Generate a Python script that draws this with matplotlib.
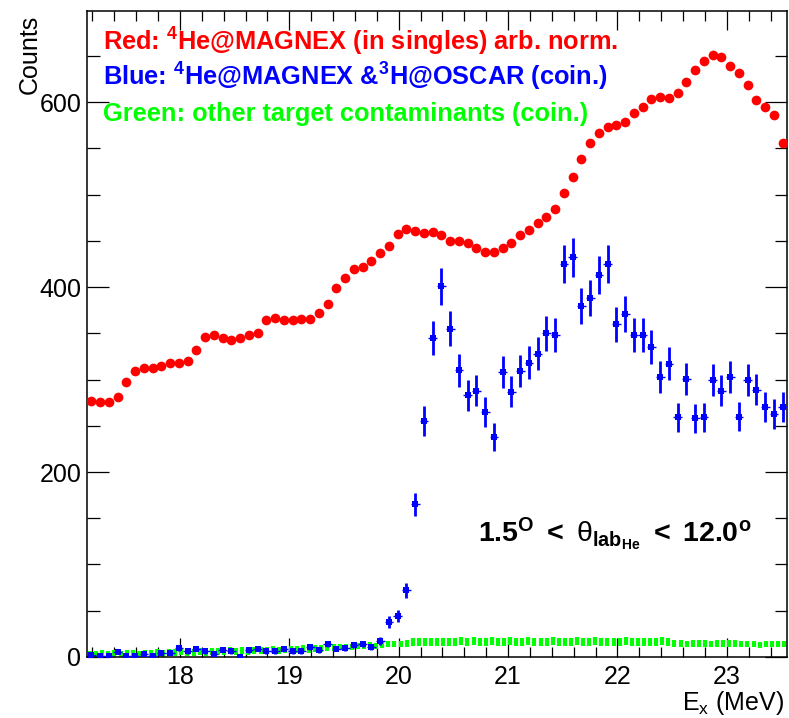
import numpy as np
import matplotlib
matplotlib.use("Agg")
import matplotlib.pyplot as plt
from matplotlib.ticker import MultipleLocator

plt.rcParams['font.family'] = ['Liberation Sans', 'DejaVu Sans']
plt.rcParams['mathtext.fontset'] = 'custom'
plt.rcParams['mathtext.rm'] = 'Liberation Sans'
plt.rcParams['mathtext.bf'] = 'Liberation Sans:bold'
plt.rcParams['mathtext.it'] = 'Liberation Sans:italic'

# ---- data ----
x_min, x_max = 17.15, 23.55
bin_width = 0.08

red_counts = [277, 276, 276, 281, 297, 309, 313, 313, 315, 318,
              318, 320, 332, 346, 348, 345, 343, 345, 348, 350,
              364, 367, 364, 364, 365, 366, 372, 382, 399, 410,
              419, 422, 428, 437, 444, 457, 463, 461, 459, 460,
              456, 450, 450, 448, 442, 438, 438, 442, 448, 456,
              462, 469, 476, 484, 502, 519, 538, 556, 567, 573,
              575, 578, 588, 595, 603, 605, 604, 610, 622, 635,
              644, 651, 649, 639, 632, 618, 602, 595, 586, 556]

blue_counts = [2, 1, 1, 5, 1, 1, 3, 1, 4, 4,
               10, 6, 9, 6, 3, 8, 6, 0, 7, 9,
               6, 6, 9, 6, 6, 11, 7, 14, 9, 10,
               13, 14, 11, 17, 38, 44, 72, 165, 255, 345,
               401, 355, 310, 283, 288, 265, 238, 308, 287, 309,
               318, 328, 350, 348, 425, 432, 379, 388, 413, 425,
               360, 371, 348, 348, 335, 303, 317, 259, 301, 258,
               259, 299, 288, 303, 260, 299, 289, 270, 263, 270]

green_counts = [3, 3, 4, 3, 4, 3, 4, 4, 3, 4, 4,
                5, 4, 5, 5, 6, 5, 5, 6, 5, 6,
                6, 6, 7, 6, 7, 6, 7, 7, 7, 8,
                7, 8, 8, 8, 9, 8, 9, 9, 10, 10,
                11, 10, 11, 12, 12, 13, 12, 13, 14, 14,
                14, 15, 16, 16, 16, 16, 16, 16, 16, 16,
                17, 16, 17, 16, 16, 17, 16, 16, 17, 16,
                16, 17, 16, 16, 16, 17, 16, 16, 16, 17,
                16, 16, 17, 16, 16, 16, 16, 17, 16, 16,
                16, 16, 16, 17, 16,
                15, 15, 14, 15, 15, 15, 14, 15, 15, 15, 15,
                14, 14, 14, 13, 14, 14, 14, 14]

red = np.array(red_counts, dtype=float)
blue = np.array(blue_counts, dtype=float)
green = np.array(green_counts, dtype=float)

x_centers = x_min + bin_width * (np.arange(len(red)) + 0.5)
gw = (x_max - x_min) / len(green)
g_centers = x_min + gw * (np.arange(len(green)) + 0.5)

fig = plt.figure(figsize=(7.89, 7.18), dpi=100)
ax = fig.add_axes([0.1103, 0.0850, 0.8872, 0.8990])

# green
ax.errorbar(g_centers, green, yerr=np.maximum(np.sqrt(green), 3.5), fmt='none',
            ecolor='#00ff00', elinewidth=3.0, capsize=0, zorder=2)
# blue
ax.errorbar(x_centers, blue, xerr=bin_width / 2, fmt='none',
            ecolor='#0000ff', elinewidth=1.0, capsize=0, zorder=3)
ax.errorbar(x_centers, blue, yerr=np.sqrt(blue), fmt='s', color='#0000ff',
            ms=3.8, mew=0, elinewidth=2.0, capsize=0, zorder=4)
# red
ax.plot(x_centers, red, 'o', color='#ff0000', ms=7.0, mew=0, zorder=5)

ax.set_xlim(x_min, x_max)
ax.set_ylim(0, 698)

ax.xaxis.set_major_locator(MultipleLocator(1))
ax.xaxis.set_minor_locator(MultipleLocator(0.2))
ax.yaxis.set_major_locator(MultipleLocator(200))
ax.yaxis.set_minor_locator(MultipleLocator(50))

ax.tick_params(axis='both', which='both', direction='in', top=True, right=True,
               width=0.9, labelsize=18)
ax.tick_params(axis='x', which='major', length=14, pad=6)
ax.tick_params(axis='x', which='minor', length=7)
ax.tick_params(axis='y', which='major', length=16, pad=4)
ax.tick_params(axis='y', which='minor', length=9)
for s in ax.spines.values():
    s.set_linewidth(1.1)

fig.text(0.038, 0.979, 'Counts', rotation=90, ha='center', va='top', fontsize=18)
fig.text(0.9935, 0.011, r'E$_{\rm x}$ (MeV)', ha='right', va='baseline', fontsize=18)

ax.text(0.0229, 0.9396, r'Red: $^{\mathbf{4}}$He@MAGNEX (in singles) arb. norm.',
        transform=ax.transAxes, color='#ff0000', fontsize=18.3, fontweight='bold',
        va='baseline', ha='left')
ax.text(0.0229, 0.8854, r'Blue: $^{\mathbf{4}}$He@MAGNEX &$^{\mathbf{3}}$H@OSCAR (coin.)',
        transform=ax.transAxes, color='#0000ff', fontsize=18.3, fontweight='bold',
        va='baseline', ha='left')
ax.text(0.0229, 0.8296, 'Green: other target contaminants (coin.)',
        transform=ax.transAxes, color='#00ff00', fontsize=18.3, fontweight='bold',
        va='baseline', ha='left')

ax.text(0.5586, 0.178,
        r'$\mathbf{1.5^{O}\ <\ }\mathrm{θ}_{\mathbf{lab_{He}}}\mathbf{\ <\ 12.0^{o}}$',
        transform=ax.transAxes, color='black', fontsize=20.5, va='baseline', ha='left')

fig.savefig('out.png', dpi=100)
